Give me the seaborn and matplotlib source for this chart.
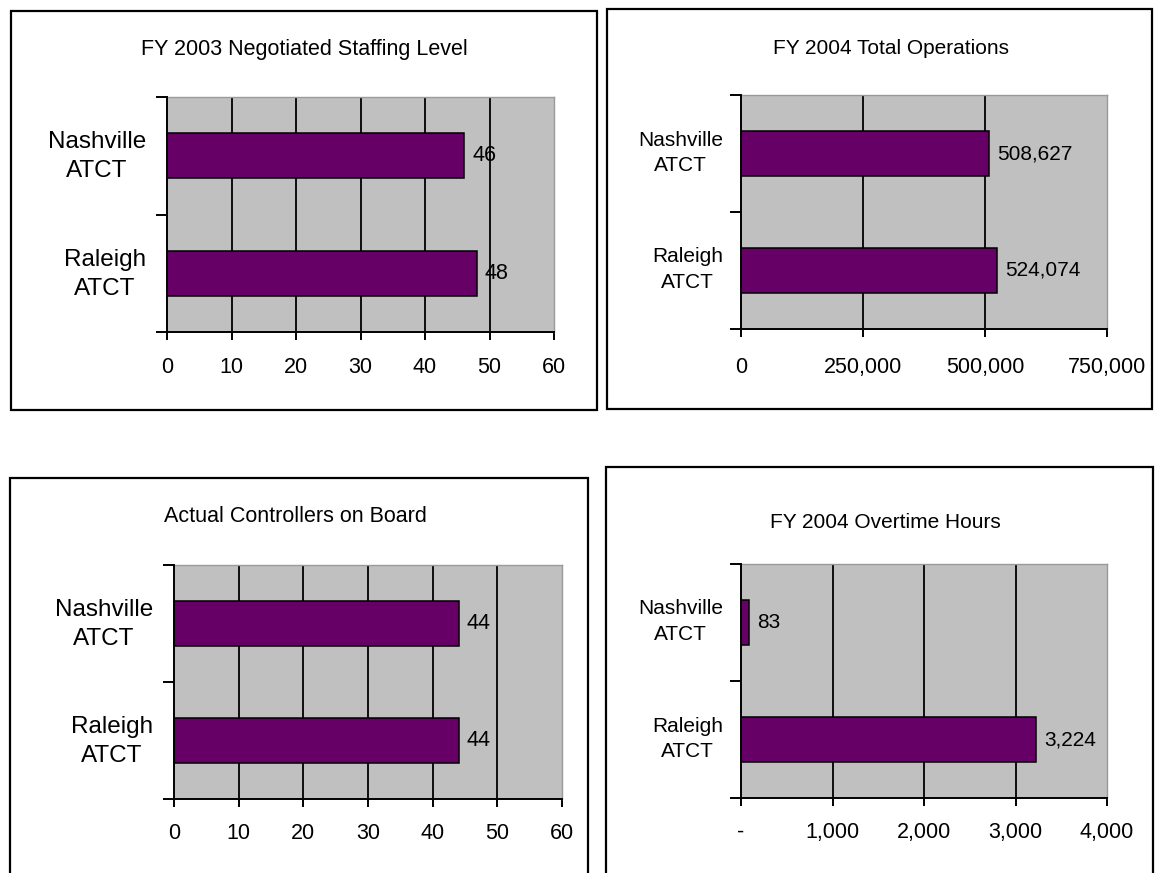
import matplotlib
matplotlib.use("Agg")
import matplotlib.pyplot as plt
from matplotlib.patches import Rectangle
from matplotlib.transforms import ScaledTranslation
import seaborn as sns
import pandas as pd

# Facilities compared in each panel
facilities = ["Nashville\nATCT", "Raleigh\nATCT"]

# Panel values
staffing_fy2003 = [46, 48]
operations_fy2004 = [508627, 524074]
controllers_on_board = [44, 44]
overtime_fy2004 = [83, 3224]

# Panel titles
titles = [
    "FY 2003 Negotiated Staffing Level",
    "FY 2004 Total Operations",
    "Actual Controllers on Board",
    "FY 2004 Overtime Hours",
]

# Axis ticks and their labels
ticks_staff = [0, 10, 20, 30, 40, 50, 60]
ticks_ops = [0, 250000, 500000, 750000]
ticks_ot = [0, 1000, 2000, 3000, 4000]
tick_labels_staff = ["0", "10", "20", "30", "40", "50", "60"]
tick_labels_ops = ["0", "250,000", "500,000", "750,000"]
tick_labels_ot = ["-", "1,000", "2,000", "3,000", "4,000"]

sns.set_theme(style="white")
plt.rcParams["font.family"] = ["Liberation Sans", "DejaVu Sans"]
plt.rcParams["text.color"] = "black"
plt.rcParams["xtick.color"] = "black"
plt.rcParams["ytick.color"] = "black"
plt.rcParams["xtick.labelcolor"] = "black"
plt.rcParams["ytick.labelcolor"] = "black"

W, H = 1156, 873
fig = plt.figure(figsize=(W / 100, H / 100), dpi=100)
fig.patch.set_facecolor("white")

BAR = "#660066"
PLOT_BG = "#C0C0C0"


def px_axes(x0, y0, x1, y1):
    return fig.add_axes([x0 / W, 1 - y1 / H, (x1 - x0) / W, (y1 - y0) / H])


def px_box(x0, y0, x1, y1):
    fig.patches.append(Rectangle((x0 / W, 1 - y1 / H), (x1 - x0) / W, (y1 - y0) / H,
                                 transform=fig.transFigure, fill=False,
                                 edgecolor="black", linewidth=1.6, zorder=0))


def panel(ax, values, ticks, tick_labels, label_size, ytick_size, ypad, xpad,
          line_gap, lift_px, title, title_xy, title_size):
    df = pd.DataFrame({"facility": facilities, "value": values})
    sns.barplot(data=df, x="value", y="facility", orient="h", color=BAR,
                saturation=1, edgecolor="black", linewidth=1.1, width=0.38,
                ax=ax, zorder=3)
    ax.set_facecolor(PLOT_BG)
    ax.set_xlim(ticks[0], ticks[-1])
    ax.set_ylim(1.5, -0.5)
    ax.set_xlabel("")
    ax.set_ylabel("")

    ax.set_xticks(ticks, labels=tick_labels)
    ax.tick_params(axis="x", which="major", length=6, width=1.4, color="black",
                   pad=xpad, labelsize=15.5, bottom=True, labelcolor="black")
    ax.set_yticks([-0.5, 0.5, 1.5], labels=["", "", ""])
    ax.set_yticks([0, 1], labels=facilities, minor=True)
    ax.tick_params(axis="y", which="major", length=8, width=1.4, color="black",
                   left=True)
    ax.tick_params(axis="y", which="minor", length=0, pad=ypad,
                   labelsize=ytick_size, labelcolor="black")
    lift = ScaledTranslation(0, lift_px / 100, fig.dpi_scale_trans)
    for t in ax.get_yticklabels(minor=True):
        t.set_multialignment("center")
        t.set_linespacing(line_gap)
        t.set_transform(t.get_transform() + lift)

    ax.grid(False)
    for x in ticks[1:-1]:
        ax.axvline(x, color="black", linewidth=1.3, zorder=1)

    for side in ("left", "bottom"):
        ax.spines[side].set_color("black")
        ax.spines[side].set_linewidth(1.4)
        ax.spines[side].set_zorder(5)
    for side in ("top", "right"):
        ax.spines[side].set_color("#9a9a9a")
        ax.spines[side].set_linewidth(1.0)

    ax.bar_label(ax.containers[0], fmt="{:,.0f}", padding=6,
                 fontsize=label_size, color="black", zorder=6)

    fig.text(title_xy[0] / W, 1 - title_xy[1] / H, title, ha="center",
             va="center", fontsize=title_size, color="black")


# Panel frames
px_box(11, 11, 597, 410)
px_box(607, 9, 1152, 409)
px_box(10, 478, 588, 900)
px_box(606, 467, 1153, 900)

ax1 = px_axes(167, 97, 554, 332)
panel(ax1, staffing_fy2003, ticks_staff, tick_labels_staff, 15.5, 17.5, 15, 12,
      1.4, 5, titles[0], (304, 50), 15.5)

ax2 = px_axes(741, 95, 1107, 329)
panel(ax2, operations_fy2004, ticks_ops, tick_labels_ops, 15, 15, 13, 14,
      1.45, 6, titles[1], (891, 48), 15)

ax3 = px_axes(174, 565, 562, 799)
panel(ax3, controllers_on_board, ticks_staff, tick_labels_staff, 15.5, 17.5, 15, 11,
      1.4, 5, titles[2], (295, 517), 15.5)

ax4 = px_axes(741, 564, 1107, 798)
panel(ax4, overtime_fy2004, ticks_ot, tick_labels_ot, 15, 15, 13, 11,
      1.45, 6, titles[3], (885, 522), 15)

fig.savefig("out.png", dpi=100)
